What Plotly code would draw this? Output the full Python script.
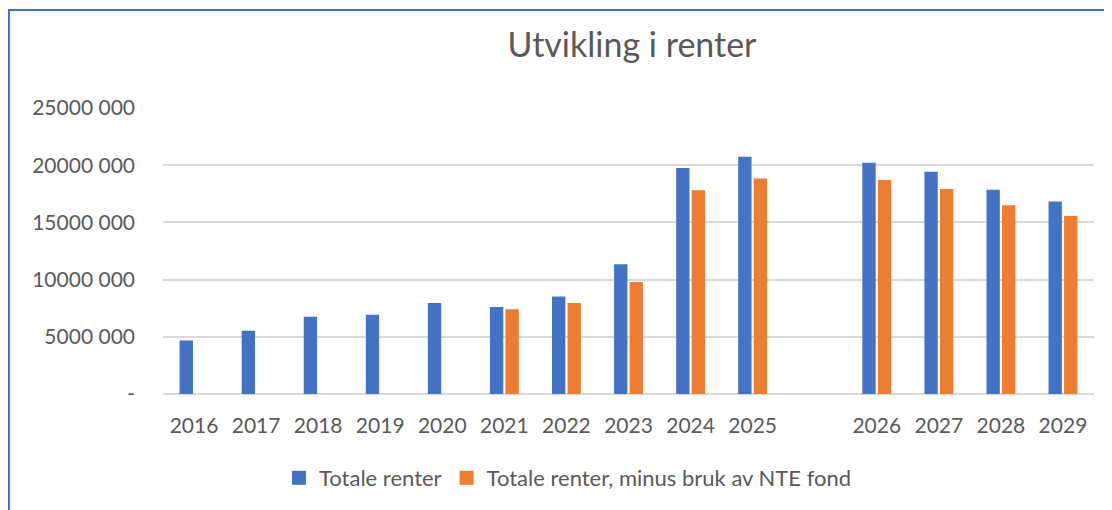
import plotly.graph_objects as go

years = ["2016", "2017", "2018", "2019", "2020", "2021", "2022", "2023", "2024", "2025",
         " ", "2026", "2027", "2028", "2029"]
totale_renter = [4.68e6, 5.53e6, 6.75e6, 6.93e6, 7.95e6, 7.60e6, 8.52e6, 11.35e6, 19.75e6, 20.74e6,
                 None, 20.22e6, 19.43e6, 17.85e6, 16.83e6]
minus_nte = [None, None, None, None, None, 7.40e6, 7.96e6, 9.80e6, 17.82e6, 18.84e6,
             None, 18.70e6, 17.91e6, 16.51e6, 15.55e6]
series_names = ["Totale renter", "Totale renter, minus bruk av NTE fond"]
y_tickvals = [0, 5e6, 10e6, 15e6, 20e6, 25e6]
y_ticktext = ["-", "5000 000", "10000 000", "15000 000", "20000 000", "25000 000"]

W, H = 1112, 510
OFF = 8  # page body margin
L, T = 163 - OFF, 108 - OFF
pw, ph = 931, 286
R = W - L - pw
B = H - T - ph

def px_x(px):
    return (px - OFF - L) / pw

def px_y(py):
    return (T + ph - (py - OFF)) / ph

FONT = "Lato"
GREY = "#595959"
COLORS = ["#4472C4", "#ED7D31"]

fig = go.Figure()
for vals, name, col in zip([totale_renter, minus_nte], series_names, COLORS):
    fig.add_bar(x=years, y=vals, name=name, marker_color=col,
                marker_line_width=0, showlegend=False, legendgroup=name)
# legend entries with square swatches
for name, col in zip(series_names, COLORS):
    fig.add_scatter(x=[None], y=[None], mode="markers", name=name, legendgroup=name,
                    marker=dict(symbol="square", size=14, color=col), showlegend=True)

fig.update_layout(
    width=W, height=H,
    margin=dict(l=L, r=R, t=T, b=B, autoexpand=False),
    paper_bgcolor="white", plot_bgcolor="white",
    barmode="group", bargap=0.5, bargroupgap=0.14,
    font=dict(family=FONT, color=GREY, size=21),
    title=dict(text="Utvikling i renter", x=(632 - OFF) / W, xanchor="center",
               y=1 - (45 - OFF) / H, yanchor="middle", yref="container",
               font=dict(family=FONT, size=34, color=GREY)),
    showlegend=True,
    legend=dict(orientation="h", x=px_x(568), xanchor="center", y=px_y(478), yanchor="middle",
                font=dict(family=FONT, size=22, color=GREY),
                traceorder="normal", itemwidth=30),
    xaxis=dict(type="category", categoryorder="array", categoryarray=years,
               showgrid=False, showline=False, ticks="", zeroline=False,
               ticklabelstandoff=17, tickfont=dict(family=FONT, size=21, color=GREY)),
    yaxis=dict(range=[0, 25e6], tickvals=y_tickvals, ticktext=y_ticktext,
               showgrid=True, gridcolor="#D9D9D9", gridwidth=1.5,
               zeroline=True, zerolinecolor="#D9D9D9", zerolinewidth=1.5,
               showline=False, ticks="", ticklabelstandoff=27,
               tickfont=dict(family=FONT, size=21, color=GREY)),
    shapes=[dict(type="rect", xref="paper", yref="paper",
                 x0=px_x(9), y0=px_y(560), x1=px_x(1160), y1=px_y(10),
                 line=dict(color="#4472C4", width=2), fillcolor="rgba(0,0,0,0)", layer="below")],
)

fig.write_html("out.html")
